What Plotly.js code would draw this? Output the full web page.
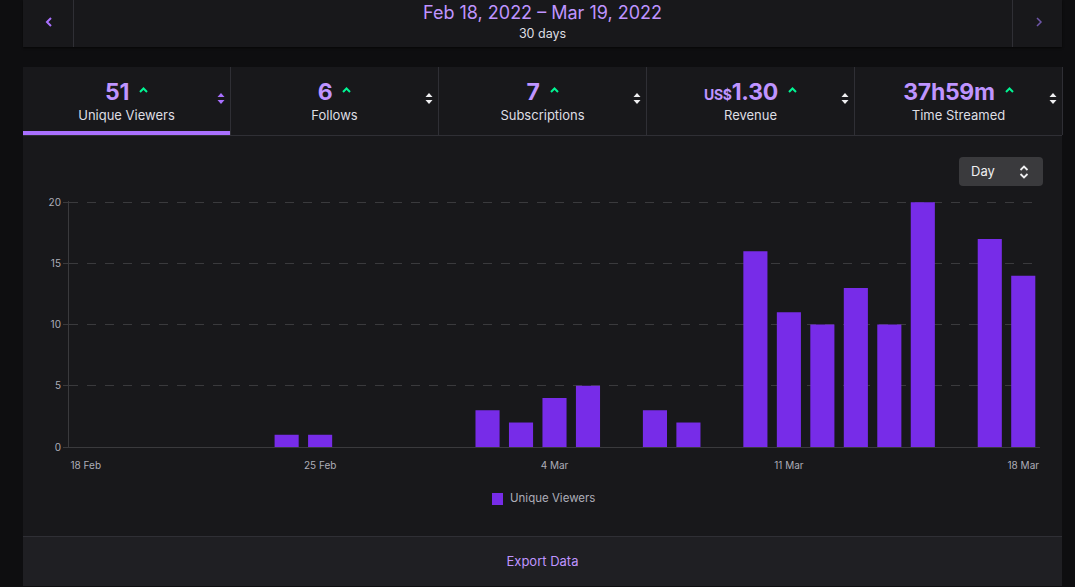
<!DOCTYPE html>
<html>
<head>
<meta charset="utf-8">
<script src="https://cdn.plot.ly/plotly-3.0.1.min.js"></script>
<style>
  html, body { margin: 0; padding: 0; width: 1075px; height: 587px; overflow: hidden;
    background: #0e0e10; font-family: Inter, "Noto Sans", sans-serif; }
  .abs { position: absolute; }
  #header { left: 23px; top: 0; width: 1039px; height: 47px; background: #18181b;
    box-shadow: 0 1px 2px rgba(0,0,0,0.6); }
  #header .div1 { left: 50px; top: 0; width: 1px; height: 47px; background: #2f2f35; }
  #header .div2 { left: 989px; top: 0; width: 1px; height: 47px; background: #2f2f35; }
  #range { left: 0; width: 1039px; top: 2px; text-align: center; color: #bf94ff; font-size: 18px; }
  #days { left: 0; width: 1039px; top: 26px; text-align: center; color: #dedee3; font-size: 12.5px; }
  #panel { left: 23px; top: 67px; width: 1039px; height: 518px; background: #18181b; }
  .tab { top: 0; width: 207px; height: 68px; border-right: 1px solid #2f2f35; }
  .tab .val { position: absolute; left: 0; width: 100%; top: 11px; text-align: center;
    color: #bf94ff; font-weight: 700; font-size: 23px; line-height: 28px; letter-spacing: -0.3px; }
  .tab .val small { font-size: 14px; font-weight: 700; }
  .tab .val svg { margin-left: 10px; vertical-align: 7px; }
  .tab .lbl { position: absolute; left: 0; width: 100%; top: 40px; text-align: center;
    color: #dedee3; font-size: 13px; }
  .tab .sort { position: absolute; right: 5px; top: 25px; }
  #tabline { left: 0; top: 68px; width: 1039px; height: 1px; background: #2f2f35; }
  #active { left: 0; top: 64px; width: 207px; height: 4px; background: #a970ff; }
  #daybtn { left: 936px; top: 90px; width: 84px; height: 29px; background: #3a3a3d;
    border-radius: 4px; }
  #daybtn span { position: absolute; left: 12px; top: 6px; color: #efeff1; font-size: 13px; }
  #daybtn svg { position: absolute; left: 60px; top: 8px; }
  #footer { left: 0; top: 469px; width: 1039px; height: 49px; background: #1f1f23;
    border-top: 1px solid #2f2f35; }
  #footer span { position: absolute; left: 0; width: 1039px; top: 16px; text-align: center;
    color: #bf94ff; font-size: 13px; }
  #chart { left: 0; top: 68px; width: 1039px; height: 402px; }
  #legend { left: 469px; top: 426px; height: 14px; }
  #legend .sw { position: absolute; left: 0; top: 0; width: 11px; height: 12px; background: #772ce8; }
  #legend span { position: absolute; left: 18px; top: -2px; white-space: nowrap;
    color: #adadb8; font-size: 11.5px; }
</style>
</head>
<body>
<div id="header" class="abs">
  <svg class="abs" style="left:22px;top:17px" width="8" height="10" viewBox="0 0 8 10">
    <polyline points="6,1 2,5 6,9" fill="none" stroke="#a970ff" stroke-width="2"/></svg>
  <div class="abs div1"></div>
  <div id="range" class="abs">Feb 18, 2022 – Mar 19, 2022</div>
  <div id="days" class="abs">30 days</div>
  <div class="abs div2"></div>
  <svg class="abs" style="left:1012px;top:17px" width="8" height="10" viewBox="0 0 8 10">
    <polyline points="2,1 6,5 2,9" fill="none" stroke="#6e56a8" stroke-width="1.5"/></svg>
</div>

<div id="panel" class="abs">
  <div id="chart" class="abs"></div>
  <div id="tabs"></div>
  <div id="tabline" class="abs"></div>
  <div id="active" class="abs"></div>
  <div id="daybtn" class="abs"><span>Day</span>
    <svg width="10" height="14" viewBox="0 0 10 14">
      <polyline points="1.5,5 5,1.5 8.5,5" fill="none" stroke="#efeff1" stroke-width="1.8"/>
      <polyline points="1.5,9 5,12.5 8.5,9" fill="none" stroke="#efeff1" stroke-width="1.8"/>
    </svg></div>
  <div id="legend" class="abs"><div class="sw"></div><span></span></div>
  <div id="footer" class="abs"><span>Export Data</span></div>
</div>

<script>
// Summary tiles above the chart
const statLabels = ["Unique Viewers", "Follows", "Subscriptions", "Revenue", "Time Streamed"];
const statValues = ["51", "6", "7", "1.30", "37h59m"];
const statPrefixes = ["", "", "", "US$", ""];

// Daily unique viewers
const seriesName = "Unique Viewers";
const days = [
  "2022-02-18", "2022-02-19", "2022-02-20", "2022-02-21", "2022-02-22", "2022-02-23",
  "2022-02-24", "2022-02-25", "2022-02-26", "2022-02-27", "2022-02-28", "2022-03-01",
  "2022-03-02", "2022-03-03", "2022-03-04", "2022-03-05", "2022-03-06", "2022-03-07",
  "2022-03-08", "2022-03-09", "2022-03-10", "2022-03-11", "2022-03-12", "2022-03-13",
  "2022-03-14", "2022-03-15", "2022-03-16", "2022-03-17", "2022-03-18"
];
const uniqueViewers = [
  0, 0, 0, 0, 0, 0,
  1, 1, 0, 0, 0, 0,
  3, 2, 4, 5, 0, 3,
  2, 0, 16, 11, 10, 13,
  10, 20, 0, 17, 14
];
const tickDates = ["2022-02-18", "2022-02-25", "2022-03-04", "2022-03-11", "2022-03-18"];
const tickLabels = ["18 Feb", "25 Feb", "4 Mar", "11 Mar", "18 Mar"];
const yTicks = [0, 5, 10, 15, 20];

// Build the tiles
const tabs = document.getElementById("tabs");
statLabels.forEach((lbl, i) => {
  const t = document.createElement("div");
  t.className = "abs tab";
  t.style.left = (i * 208) + "px";
  const sortCol = i === 0 ? "#a970ff" : "#efeff1";
  t.innerHTML =
    '<div class="val">' + (statPrefixes[i] ? '<small>' + statPrefixes[i] + '</small>' : '') +
    statValues[i] +
    '<svg width="9" height="6" viewBox="0 0 9 6"><polyline points="1,5 4.5,1.5 8,5" fill="none" stroke="#00f593" stroke-width="2"/></svg></div>' +
    '<div class="lbl">' + lbl + '</div>' +
    '<svg class="sort" width="8" height="13" viewBox="0 0 8 13">' +
    '<polygon points="0.5,5 4,1 7.5,5" fill="' + sortCol + '"/>' +
    '<polygon points="0.5,8 4,12 7.5,8" fill="' + sortCol + '"/></svg>';
  tabs.appendChild(t);
});
document.querySelector("#legend span").textContent = seriesName;

const trace = {
  type: "bar",
  name: seriesName,
  x: days,
  y: uniqueViewers,
  marker: { color: "#772ce8", line: { width: 0 } },
  showlegend: false,
  hoverinfo: "skip"
};

const layout = {
  width: 1039,
  height: 402,
  margin: { l: 46, r: 22, t: 66, b: 90 },
  paper_bgcolor: "rgba(0,0,0,0)",
  plot_bgcolor: "rgba(0,0,0,0)",
  bargap: 0.28,
  font: { family: "Inter, 'Noto Sans', sans-serif", color: "#adadb8", size: 10 },
  xaxis: {
    type: "date",
    range: ["2022-02-17 12:00", "2022-03-18 12:00"],
    tickvals: tickDates,
    ticktext: tickLabels,
    showgrid: false,
    showline: true,
    linecolor: "#3a3a3d",
    linewidth: 1,
    ticks: "",
    ticklabelstandoff: 9,
    tickfont: { size: 10, color: "#adadb8" },
    fixedrange: true
  },
  yaxis: {
    range: [0, 20.1],
    tickvals: yTicks,
    showgrid: true,
    gridcolor: "#3a3a3d",
    griddash: "dash",
    gridwidth: 1,
    zeroline: false,
    showline: true,
    linecolor: "#3a3a3d",
    ticks: "outside",
    ticklen: 5,
    tickcolor: "#3a3a3d",
    tickfont: { size: 10, color: "#adadb8" },
    fixedrange: true
  },
  showlegend: false
};

Plotly.newPlot("chart", [trace], layout, { displayModeBar: false, staticPlot: true });
</script>
</body>
</html>
